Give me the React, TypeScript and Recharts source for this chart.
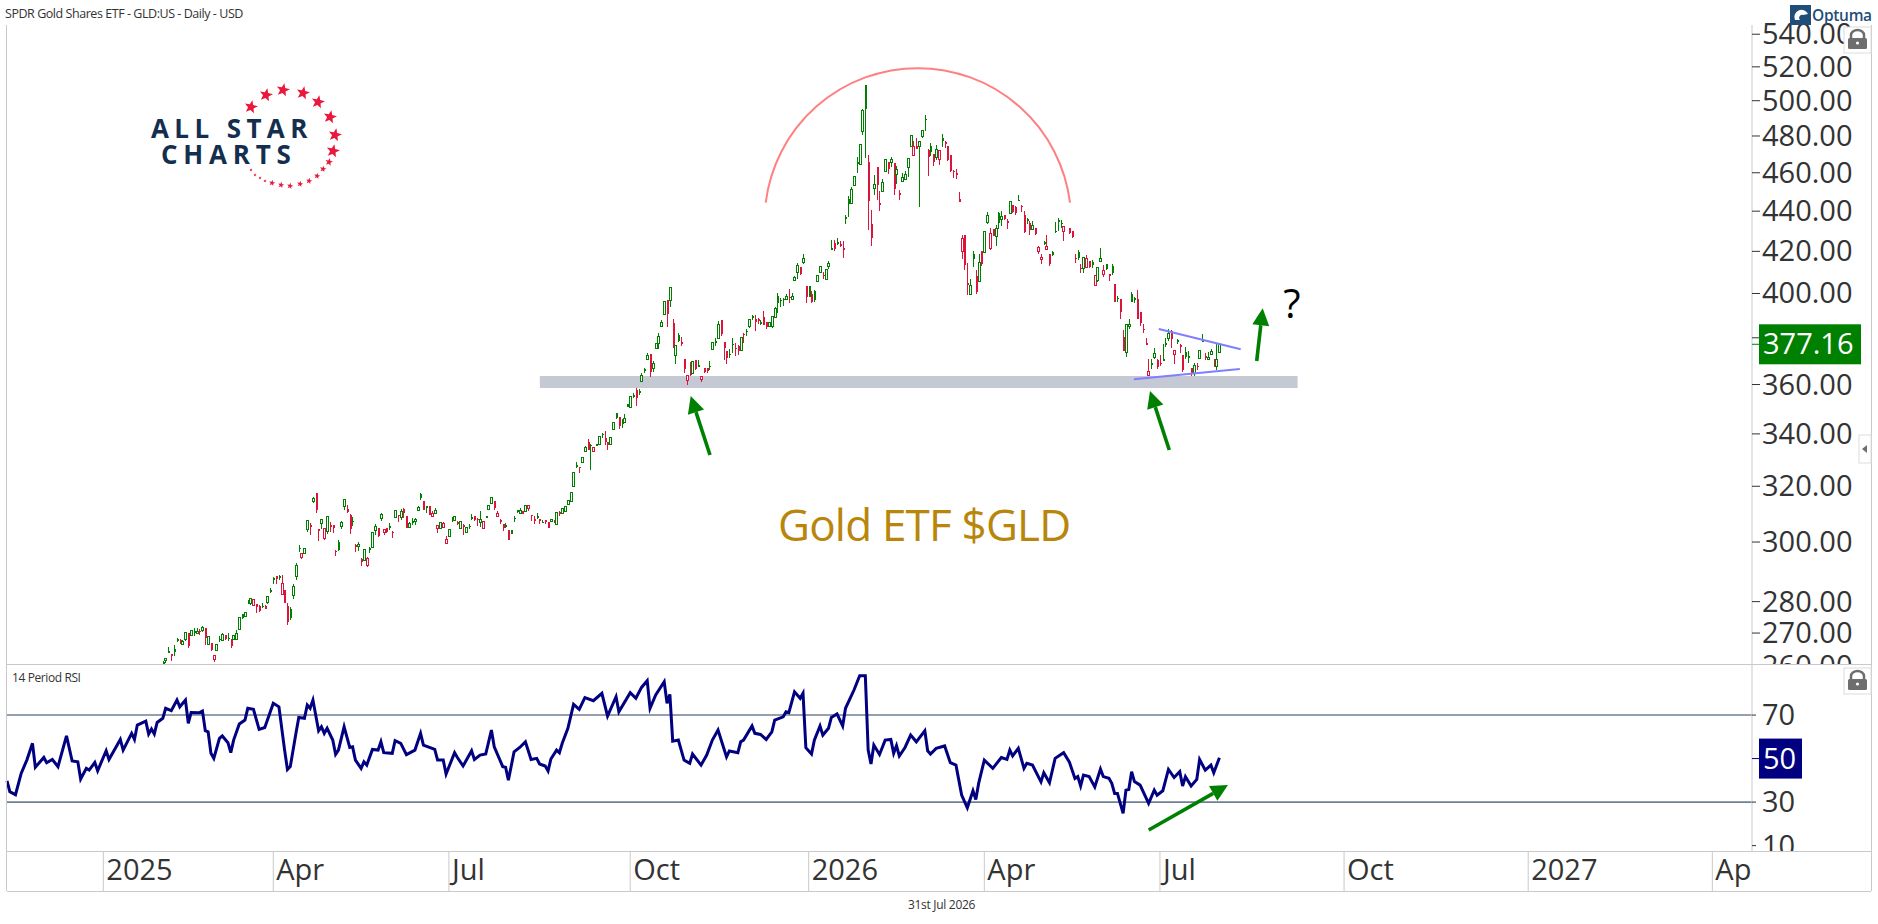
import { Bar, ComposedChart, Line, ReferenceArea, ReferenceLine, XAxis, YAxis } from "recharts";

// [slot, open, high, low, close, up] - slot is the trading day counted from the left edge
const candlesEarly = [
  [55,261,261.4,260.2,260.6,1],[56,261.5,262.4,260.7,262.2,1],[57,264.4,265.6,264,264.2,1],[58,263.5,263.6,261.5,263.1,0],[59,265.1,266.3,262.9,264.1,1],
  [60,268.1,268.6,267.2,267.8,1],[61,267.9,268.2,266.6,267.6,0],[62,266.6,267.9,266.3,267.5,1],[63,267.9,270.4,267.4,270.1,1],[64,270,270,265.5,266,0],
  [65,269.1,270.9,269,270.8,1],[66,270.5,271.5,269.1,270.1,1],[67,269.9,271.7,269.7,270.5,1],[68,270.8,271.2,269.4,270.2,0],[69,270.8,272.3,270.4,271.9,1],
  [70,271.7,271.7,266.3,268.6,0],[71,266.6,268.8,266.6,268.8,1],[72,266.8,266.8,264.3,264.8,0],[73,262,263.1,261.1,263.1,0],[74,264.6,266.5,264.6,266.5,1],
  [75,268.3,269.1,267.1,268,1],[76,267.7,270,267.5,269.5,1],[77,269.4,269.4,267.9,268,0],[78,268.6,269.9,267.4,268.2,1],[79,268.1,268.1,265.5,266,0],
  [80,267.9,269.2,267.9,269.2,1],[81,267.9,270.9,267.9,270,1],[82,271.2,274.9,271.2,274.9,1],[83,275.9,276,274.3,274.6,1],[84,275.1,276.5,275.1,276.5,1],
  [85,279.7,280.5,279.1,279.2,1],[86,279.3,281,279,280.9,1],[87,278.9,280.7,278.8,280.6,0],[88,279.2,279.2,276.4,278.3,0],[89,278.5,278.9,276.6,276.9,0],
  [90,278.6,279.7,277.8,278.2,1],[91,278.7,278.9,277.6,277.7,0],[92,279.7,281.8,279.2,281.8,1],[93,283.8,284.4,282.7,283.3,1],[94,287.7,288.2,285.8,287.3,1],
  [95,288.6,288.6,285.8,287.5,0],[96,288.3,288.7,287.1,287.9,1],[97,282.4,288.7,282.2,286,0],[98,283.8,283.8,279.4,279.4,0],[99,278.6,279.7,272.5,273.6,0],
  [100,277.5,278.3,274.1,274.9,1],[101,281.9,285.8,280.9,285.1,1],[102,288.2,292.9,287.1,292.1,1],[103,298,299,296.5,297.6,1],[104,294.8,296.3,294.2,295.9,0],
];

const candlesSummer = [
  [105,296.2,297.9,296.1,297.6,1],[106,304.3,307.9,303.6,307.4,1],[107,306,306.6,302.6,305.4,0],[108,314.4,316.2,313.8,315.4,1],[109,317.4,317.4,310.4,311.3,0],
  [110,304.4,304.4,300.5,304,0],[111,306.5,308.1,304.6,307.8,1],[112,301.2,304.9,300.7,304.7,0],[113,303.6,308.9,302.8,308.9,1],[114,306,307.2,303.6,305.4,0],
  [115,306,306,303.2,304.9,0],[116,297,297.4,295.1,296.8,0],[117,300.1,300.7,297,297.4,1],[118,305.4,307.4,304.6,306.9,1],[119,312.6,315.2,311.4,315.2,1],
  [120,311.7,313.2,310.2,310.5,0],[121,309.6,309.9,302.8,304.5,0],[122,307.4,308.7,305.7,306.9,1],[123,298.8,299.3,296.5,298.4,0],[124,298.4,300,297,299.3,1],
  [125,294,294.4,291.7,293.2,0],[126,293.6,297.4,293.6,297.4,1],[127,292,295,291.5,294.3,0],[128,297.8,298.4,296.3,297.4,1],[129,298.2,303.4,298.2,303.4,1],
  [130,303.9,306.2,302.5,305.5,1],[131,304.8,304.8,301.8,302.2,0],[132,308.2,310.2,307.5,309.6,1],[133,303.2,304.5,302.6,304.3,0],[134,304.8,304.8,303,303.6,0],
  [135,305.6,306.6,304.2,305.2,1],[136,303.6,303.8,301.4,303.3,0],[137,308.8,311.3,308.8,311.3,1],[138,309.6,309.6,307.2,309.1,0],[139,308.8,311.6,307.8,310.8,1],
  [140,311.8,311.9,308.4,310.2,0],[141,309,309,304.9,304.9,0],[142,305.2,307.2,304.8,306.4,1],[143,307.3,308.4,306,306.9,1],[144,307.3,308.4,305.8,308.1,1],
  [145,311.2,312.8,311.2,312.1,1],[146,317,317.4,315,315.8,1],[147,314.5,314.5,311.4,311.4,0],[148,312.6,312.6,310.2,312.2,1],[149,312.8,312.8,309.6,309.6,0],
  [150,309,310.8,309,309.9,0],[151,310.2,312.2,310,311,1],[152,304.8,305.9,303,305.9,0],[153,304.8,307,304.8,307,1],[154,305.2,307.2,304.8,306.6,0],
  [155,299.5,302.1,299.5,300.9,0],[156,302,304.4,302,304.4,1],[157,308.3,308.7,307.1,307.7,1],[158,307.4,309.1,307.4,309.1,1],[159,307,307.4,306,306.6,0],
  [160,304.6,307.1,304.6,307.1,1],[161,305.9,306.2,302.6,305.7,0],[162,303.2,305,303.2,305,1],[163,305.7,306.2,304.6,305.4,1],[164,308.8,309.9,307.8,308.4,1],
  [165,309.2,309.2,307.4,307.6,0],[166,308.2,308.4,305.7,307.9,0],[167,306.8,311,305.4,307.9,1],[168,304.9,307.2,304.9,307.2,0],[169,309.2,309.2,308.3,308.3,1],
  [170,311.5,312.8,311.5,312.8,1],[171,313.8,316.1,313.8,315.7,1],[172,314.6,314.6,311.4,312.2,0],[173,309,310.8,308.8,309.9,0],[174,307.9,308,306.2,307.2,0],
  [175,306.3,306.4,303.8,305,0],[176,306,306.6,304.8,305.4,1],[177,304.3,304.3,300.7,300.7,0],[178,304.2,304.2,302.8,302.8,1],[179,308.6,309.1,307.2,308,1],
  [180,311.2,311.4,310.2,310.8,1],[181,310.1,312,310,311,1],[182,310.8,310.8,309.8,309.9,0],[183,310.8,312.8,310.8,312.8,1],[184,311.8,312.8,310.8,312.8,0],
  [185,309.6,309.6,307.4,309.2,0],[186,308,309.2,306.3,307.7,0],[187,309,310.2,308.2,308.6,1],[188,308,308.2,306.3,307.6,0],[189,307.1,307.6,306.6,306.8,1],
  [190,307.6,307.8,306.3,307,0],[191,306.9,307,304.8,305,0],[192,307.2,308,307.2,308,1],[193,307.8,307.8,306.6,306.6,0],[194,306.3,310.3,306.3,310.3,1],
  [195,310.6,310.8,309.2,310.3,0],[196,310,311.8,310,311.8,1],[197,310.8,312.6,310.8,312.6,1],[198,313.2,314.9,313.2,314.9,1],[199,314.4,317.8,314.4,317.8,1],
  [200,320.1,325.4,320.1,325.3,1],[201,327.9,329.2,326.7,327.5,1],[202,327.4,327.4,325.1,327.1,0],
];

const candlesAutumn = [
  [203,328.9,330.7,328.9,330.7,1],[204,333.2,335.3,333.2,334.7,1],[205,337,338,333.8,333.8,0],[206,335.7,336.1,326.1,335.5,1],[207,333,334.7,333,334.7,0],
  [208,335.9,336,335.3,335.5,1],[209,335.7,338.9,335.7,338.9,1],[210,340,340.5,338.5,339.6,1],[211,338.5,341,335.7,336.9,0],[212,337,337,333.8,335.5,0],
  [213,335.7,338.6,335.7,338.6,1],[214,341.9,344.7,341.7,344.7,1],[215,348.2,348.2,346.1,346.5,1],[216,346.6,346.6,342.1,343.2,0],[217,344.4,346.1,342.2,343.8,1],
  [218,344.6,347.9,344.6,346.2,1],[219,351.9,352.1,350.9,350.9,1],[220,350.5,355.2,350.5,355.2,1],[221,355.6,356.4,354.3,355.2,1],[222,357.8,358.5,351.2,354.3,0],
  [223,357.3,358.1,355.7,356.8,1],[224,361.1,364.7,361.1,363.7,1],[225,366.4,367,364.7,366,1],[226,370.6,373.3,370.3,372.1,1],[227,373,373,363,365.1,0],
  [228,366.9,370,365.4,368.7,1],[229,375.3,377.8,374.9,377.5,1],[230,377.4,382,375.3,380.4,1],[231,385.2,387.7,384.6,386.9,1],[232,390.2,396.1,390.2,396.1,1],
  [233,397,397,384.9,390.6,0],[234,396.7,402.8,394,402.8,1],[235,386.5,388.3,375.7,376.8,0],[236,372.1,376.8,368.7,376.8,1],[237,381.3,382,378.2,378.6,1],
  [238,378,380.5,376.5,377.5,0],[239,371,371,364.7,366.5,0],[240,361.5,363.6,359.9,363.6,0],[241,369.6,369.6,363.6,364,0],[242,364.6,369.6,364.4,369.6,1],
  [243,370.3,370.3,366.1,366.4,0],[244,368.2,370.3,367.5,367.9,1],[245,362.3,363.3,361.1,363.3,0],[246,367.1,367.1,364.7,365.2,0],[247,366.8,367.1,364.9,365.6,0],
  [248,368,370,366.1,367.8,1],[249,374.9,378.1,374.9,378.1,1],[250,378.6,380,376.4,378.3,1],[251,379.6,387.4,379.3,385.9,1],[252,388.1,388.1,381,381.5,0],
  [253,378.3,378.3,370.2,375.4,0],[254,374.2,374.2,368.5,371.4,0],[255,373,375.2,371.4,372.6,1],[256,377.5,380,373.2,377.2,1],[257,375.6,377.8,371.9,375.2,0],
  [258,376.4,376.8,372.5,374.2,0],[259,374.5,380,374.5,380,1],[260,381.9,382.2,377.8,381.6,0],[261,383.2,383.7,380.7,382.6,1],[262,385.1,388.1,384.5,388.1,1],
  [263,389.8,390.2,388.1,389,1],[264,388.4,390.3,383,386.9,0],[265,388.5,388.9,386.3,387.5,0],[266,387,387.7,385.7,386.5,1],[267,389.1,391.8,385.9,385.9,0],
  [268,386.8,387,384.1,385,0],[269,385.1,387,384.8,387,1],[270,385.1,389.3,384.5,389.3,1],[271,388.9,394,388.9,392.9,1],[272,399,400.2,391.1,395.6,1],
  [273,397.2,397.7,393.9,396.8,1],[274,397.5,397.7,394.2,396.9,1],[275,397.3,399.7,397,398.7,1],[276,398.6,402.2,395.8,397.7,0],[277,397.2,400,397.2,398.7,1],
  [278,406.1,408.4,405.8,407.7,1],[279,409.9,414.2,406.8,413.3,1],[280,412.5,412.5,408.8,409,0],[281,414.4,418.5,414.1,416.4,1],
];

const candlesWinter = [
  [282,403.6,403.6,395.6,398.6,0],[283,403.6,403.6,398.6,398.6,1],[284,399.7,401,395.6,396,0],[285,401,401.4,396.3,396.8,1],[286,405.5,408.4,405.5,408.4,1],
  [287,409.9,412.8,409.9,412.8,1],[288,408.8,409.9,406.8,408,0],[289,406.4,411.2,406.4,411.2,1],[290,412.5,415.1,411.7,414.3,1],[291,421.6,425.7,420.8,421,1],
  [292,424.1,425.7,420,421.3,0],[293,424.5,426.6,422.9,424.2,1],[294,423.6,424.9,422.1,422.8,0],[295,421.4,424.9,417,421,0],[296,437,437.8,433.6,436.1,1],
  [297,446.2,447.6,436.8,443.7,1],[298,443.7,452.4,443.7,451.4,1],[299,453.3,458.5,453.3,457.8,1],[300,466,468.7,459.8,464.6,1],[301,464.6,475.5,464.6,475.5,1],
  [302,482.4,495,480.6,494.1,1],[303,509.1,509.1,467.9,495,1],[304,466,469.7,430.6,445,0],[305,433.6,440.7,422.5,426.6,0],[306,451.5,458.9,448.1,454,1],
  [307,463.3,463.3,445.5,453.6,0],[308,444.2,450.5,440.2,443.4,0],[309,450.2,456.6,450.2,455,1],[310,460.7,467.4,460.7,466.9,1],[311,466,466,459.5,461.9,0],
  [312,465.4,468.3,463,467.2,1],[313,465.4,465.4,448.1,451.4,0],[314,459.3,463.7,454,461.9,1],[315,449.6,451,445.5,448.2,0],[316,455.5,459.8,455.5,457.6,1],
  [317,456.4,460.7,455.9,459.3,1],[318,462.9,467.9,458,467.9,1],[319,474.4,480.8,474.4,480.4,1],[320,469.3,477,469.3,474.2,0],[321,474.6,478.8,472.7,472.7,0],
  [322,474.2,477,442.1,477,1],[323,479.7,483.1,479,483.1,1],[324,489.6,491.8,482.8,489.2,1],[325,472.3,472.9,458.4,468.3,0],[326,474.2,476.1,469.1,471.4,1],
  [327,470.1,470.1,463.7,466,0],[328,468.1,474.8,466.9,472.7,1],[329,466.9,472.1,464.2,472.1,0],[330,479,481,473.7,477.4,1],[331,476.4,477.4,473.3,476,0],
  [332,474.6,474.6,466.4,466.6,0],[333,469.3,469.3,460.3,461,0],[334,461,461.6,457.1,460.4,0],[335,459.8,462.1,456.7,459.2,0],[336,446.4,449.9,444.5,444.5,0],
  [337,420,427.8,416.4,426.1,0],[338,427.9,427.9,411.2,413.6,0],[339,404.9,414.4,399.5,403.9,0],[340,399.5,406.8,399.2,403.8,1],[341,418.9,420.3,412.3,416.3,1],
  [342,408.4,411.2,399.9,400.5,0],[343,405.7,418.5,405.7,414.4,1],[344,420,420,412.8,414,0],[345,419.5,429.9,419.5,429.9,1],[346,434.1,439.5,433.6,437.6,1],
  [347,421.6,431.4,420.8,429,0],[348,431,431,427.3,427.5,0],[349,427.3,432.8,422.8,431.4,1],[350,439,439.8,431.1,434,1],[351,436,440.3,432.3,437.3,1],
];

const candlesSpring = [
  [352,438,438.1,435.7,436,0],[353,435,436.1,431.1,434.5,0],[354,439,444.7,439,444.7,1],[355,443.3,443.3,439,439.8,0],[356,441.9,442.5,437.8,439.3,0],
  [357,445.9,448.3,445,445,1],[358,442.8,443.3,439.8,442,0],[359,438.1,440.2,429,429.3,0],[360,436,436.5,433.6,435.4,1],[361,434,434.8,428.2,430.7,0],
  [362,430.6,434.8,430.6,433,1],[363,431.4,431.4,428.2,428.5,0],[364,420,422.5,418.5,421.8,0],[365,416,418.9,414.1,417.2,0],[366,424.8,425.2,422.9,423.5,1],
  [367,421.1,427.8,420.6,422.5,0],[368,418.5,418.5,413.1,414,0],[369,419.5,420.2,417.7,418,1],[370,430.2,434.5,429,429.4,1],[371,435.5,436.7,429.9,434.6,1],
  [372,434.2,435.7,431.4,433.8,1],[373,430,432.1,425.1,432.1,0],[375,431.5,431.6,428.5,429,0],[376,430,430.2,426.6,427,0],[377,416.8,418.7,414.2,416.4,0],
  [378,419.5,420.6,415.8,416.6,1],[379,412,413.9,409.8,411.6,0],[380,411.8,417.1,409.8,417.1,1],[381,412.3,418.2,412.3,416.6,0],[382,415.3,415.3,411.8,412.5,0],
  [383,415,415.8,411.8,413.4,1],[384,403.6,408.3,403.6,408.3,0],[385,406,412.3,405.5,412.3,1],[386,415,421.4,415,416.6,1],[387,409.1,413.4,407.5,411,0],
  [388,413.7,413.9,411,411.3,1],[389,408.9,409.1,406,408.4,0],[390,412.9,413.9,408.8,409.4,1],[391,404.4,404.4,395.9,396.1,0],[392,398,398.8,395.9,397.8,1],
  [393,397.4,397.4,388.5,391.7,0],[394,380.3,383.5,374.4,374.4,0],[395,373.5,385.9,371.8,385.9,1],[396,384.9,388.2,384.1,385.9,1],[397,399.8,400.6,395.9,396.2,1],
  [398,397.8,398.2,395.7,397.6,1],[399,397.4,401.6,388.4,388.4,0],[400,391.7,391.7,385.3,386.7,0],[401,384.1,386.1,382.3,383.5,0],[402,377.6,379.9,377.2,377.3,0],
];

const candlesSummerEnd = [
  [403,363.9,370.7,363.9,365.5,0],[404,369,370.7,366.4,368.4,1],[405,371.5,375.4,370.7,373.2,1],[406,370.2,370.7,366.7,367.5,0],[407,369.2,372.5,367.8,368.6,0],
  [408,370.6,377.3,370,370.2,1],[409,377.6,379.9,376.1,376.8,1],[410,379.6,383.7,378.4,381.8,1],[411,382.9,383.4,375.4,379.6,0],[412,372.7,374.4,368.6,374.4,0],
  [413,378.9,379.6,377.3,378.4,1],[414,376.8,377.3,373.5,376.1,0],[415,372.5,372.5,365.1,366,0],[416,373.6,375.8,370.7,371.8,1],[417,372,374.2,369.2,371.3,1],
  [418,367.1,367.1,363.7,364.5,0],[419,364.7,369.2,363.7,368.2,1],[420,367.9,368.9,366.3,367.5,0],[421,371,374.4,371,374.4,1],[422,379,381.6,378.4,378.7,1],
  [423,372.2,373.2,370.3,371.3,0],[424,370.6,373.9,370.6,371.5,1],[425,372.9,375,372.5,374.2,1],[426,370.4,370.6,367.4,368,0],[427,367.4,377.3,366.3,370.6,1],
  [428,373.5,377.6,373.5,377.16,1],
];

// [slot, value]
const rsiEarly = [
  [0,39.8],[1,34.8],[3,33.4],[5,43.2],[7,49.3],[9,57],[10,46],[13,50.5],[14,48.1],[16,49.6],[18,46.3],[21,60.4],[23,48.9],[25,48.5],[26,40.6],[28,45.5],[29,44.7],[31,48.2],[32,44.4],[35,53.6],
  [36,49.6],[40,58.8],[41,53.9],[44,61.6],[45,58.8],[46,65.4],[49,67.2],[50,61.3],[51,63.6],[52,61.3],[53,66.6],[55,68.5],[56,73.1],[58,72],[60,76.9],[61,73.8],[63,76.9],[64,66.2],[65,71.2],[68,71.1],
  [69,71.8],[70,62.8],[71,62.3],[72,52.4],[73,50.1],[75,59.3],[76,60.4],[78,57.3],[79,52.7],[80,58.5],[82,65.9],[84,67.7],[85,73.1],[87,72.6],[89,63.4],[91,64.3],[94,75.4],[96,73.8],[98,53.9],[99,45],
  [100,46.3],[102,61.6],[103,68.9],[105,68.5],[106,74.6],[107,73.1],[108,76.9],[110,62.8],[111,64.6],[112,61.6],[113,63.9],[115,58.5],[116,51.9],[117,53.9],[119,64.6],[121,55.1],[122,55.4],[123,49.3],[125,45.5],[126,48.5],
  [127,47],[129,54.2],[131,53.9],[132,57.7],[133,52.7],[136,52.4],[137,58.2],[139,57],[141,51.8],[144,53.9],[146,61.6],[147,56.2],[151,54.2],[152,49.3],[154,49.3],[155,42.9],[158,52.7],[159,50.5],[161,46.6],[164,53.6],
];

const rsiMiddle = [
  [165,49.6],[167,51.6],[169,52.1],[171,63.1],[172,55.4],[175,46.3],[176,46],[177,40.1],[179,53.1],[181,55.1],[183,57.7],[185,49.6],[187,50.1],[188,47.5],[190,46.6],[191,44.3],[192,49.8],[194,53.9],[195,52.7],[196,57],
  [198,63.9],[200,74.9],[202,72.6],[204,78],[207,76.6],[210,80],[212,69.5],[215,78.4],[216,71.5],[220,80.3],[222,77.7],[224,82.7],[226,85.8],[227,73.1],[229,79.2],[232,85.3],[233,75.4],[234,79.5],[235,58],[237,58.5],
  [239,49.3],[241,47.8],[242,52.1],[245,47],[247,51.6],[249,58.5],[251,63.1],[254,50.8],[255,53.5],[258,52.7],[259,57.7],[260,58.5],[263,65],[264,61.6],[266,61.1],[268,58.8],[270,62.3],[271,67.7],[274,69.2],[275,71.5],
  [276,71.1],[278,80.7],[280,77.7],[281,80],[282,55],[284,52.1],[285,58.5],[287,65],[288,60.8],[290,63.9],[291,68.9],[293,70.5],[295,65],[296,73.1],[299,81.5],[301,88.1],[303,88.1],[304,53.9],[305,47.5],[306,56.2],
];

const rsiLate = [
  [308,51.9],[310,58.5],[312,58.8],[313,52.4],[314,55.9],[315,51.2],[317,55.1],[319,60.8],[321,57.7],[324,62.8],[325,53.6],[326,52.1],[328,54.7],[331,55.8],[333,48.1],[335,47],[337,33.2],[339,27.4],[341,35.2],[342,31.2],
  [343,38.6],[345,49.3],[348,45.5],[351,50.5],[353,49.6],[354,53.9],[355,51.2],[357,54.7],[359,45.5],[360,47.8],[362,47],[365,39.3],[366,43.5],[368,38.9],[370,50.1],[373,52.7],[375,48.5],[377,40.9],[378,41.7],[379,37.4],
  [380,42.4],[382,41.7],[384,37],[386,45.2],[387,41.7],[389,40.9],[390,38.6],[391,34],[392,34],[394,24.8],[395,35.5],[396,35.8],[397,44],[398,39.4],[400,37.8],[403,29.4],[405,35.5],[406,33.2],[408,35.2],[410,45],
  [412,41.3],[414,44],[415,37.4],[416,41.7],[418,37.4],[420,40.4],[421,49.6],[423,44.7],[425,47],[426,43.5],[428,50.4],
];

const priceTicks = [540, 520, 500, 480, 460, 440, 420, 400, 380, 360, 340, 320, 300, 280, 270, 260];
const lastClose = 377.16;
const rsiTicks = [70, 50, 30, 10];
const rsiLastLabel = 50;
const dateSlots = [34, 94, 156, 220, 283, 345, 407, 472, 537, 602];
const dateLabels = ["2025", "Apr", "Jul", "Oct", "2026", "Apr", "Jul", "Oct", "2027", "Apr"];
const supportBand = { slots: [188.1, 455.6], prices: [358.6, 363.6] };
const upperTrend = [[406.6, 383.9], [435.5, 375]];
const lowerTrend = [[397.8, 362.2], [435.2, 366.5]];
const lastSlot = 616;

const FONT = '"Open Sans", sans-serif';
const GREEN = "#008000";
const RED = "#dc143c";
const NAVY = "#000080";
const FRAME = "#c9c9c9";
const TEXT = "#333333";

const candleData = [...candlesEarly, ...candlesSummer, ...candlesAutumn, ...candlesWinter, ...candlesSpring, ...candlesSummerEnd].map(
  ([slot, open, high, low, close, up]) => ({ slot, open, close, up, range: [low, high] }),
);
const rsiData = [...rsiEarly, ...rsiMiddle, ...rsiLate].map(([slot, rsi]) => ({ slot, rsi }));

const Candle = (props: any) => {
  const { x, y, width, height, payload } = props;
  const [low, high] = payload.range;
  const top = Math.min(y, y + height);
  const span = Math.abs(height);
  const priceY = (v: number) =>
    high === low ? top : top + (span * (Math.log(high) - Math.log(v))) / (Math.log(high) - Math.log(low));
  const color = payload.up ? GREEN : RED;
  const cx = Math.round(x + width / 2) + 0.5;
  const bodyTop = priceY(Math.max(payload.open, payload.close));
  const bodyH = priceY(Math.min(payload.open, payload.close)) - bodyTop;
  const hollow = payload.close > payload.open;
  return (
    <g shapeRendering="crispEdges">
      <line x1={cx} x2={cx} y1={top} y2={top + span} stroke={color} strokeWidth={1} />
      {hollow ? (
        <rect x={cx - 1} y={bodyTop} width={2} height={Math.max(bodyH, 1)} fill="#fff" stroke={color} strokeWidth={1} />
      ) : (
        <rect x={cx - 1} y={bodyTop} width={2} height={Math.max(bodyH, 1.5)} fill={color} />
      )}
    </g>
  );
};

const PriceTick = (props: any) => {
  const { x, y, payload } = props;
  if (payload.value === lastClose) {
    return (
      <g>
        <line x1={x} x2={x + 8} y1={y} y2={y} stroke={GREEN} />
        <rect x={x + 7} y={y - 20} width={102} height={40} fill={GREEN} />
        <text x={x + 11} y={y + 10} fontSize={29} fontFamily={FONT} fill="#fff">
          {payload.value.toFixed(2)}
        </text>
      </g>
    );
  }
  return (
    <g>
      <line x1={x} x2={x + 8} y1={y} y2={y} stroke={TEXT} />
      {payload.value !== 380 && (
        <text x={x + 10} y={y + 10} fontSize={29} fontFamily={FONT} fill={TEXT}>
          {payload.value.toFixed(2)}
        </text>
      )}
    </g>
  );
};

const RsiTick = (props: any) => {
  const { x, y, payload } = props;
  if (payload.value === rsiLastLabel) {
    return (
      <g>
        <line x1={x} x2={x + 8} y1={y} y2={y} stroke={NAVY} />
        <rect x={x + 7} y={y - 20} width={43} height={40} fill={NAVY} />
        <text x={x + 11} y={y + 10} fontSize={29} fontFamily={FONT} fill="#fff">
          {payload.value}
        </text>
      </g>
    );
  }
  return (
    <g>
      <line x1={x} x2={x + 4} y1={y} y2={y} stroke={TEXT} />
      <text x={x + 10} y={y + 10} fontSize={29} fontFamily={FONT} fill={TEXT}>
        {payload.value}
      </text>
    </g>
  );
};

const DateTick = (props: any) => {
  const { x, y, payload, index } = props;
  return (
    <g>
      <line x1={x} x2={x} y1={y} y2={y + 40} stroke={FRAME} />
      <text x={x + 3} y={y + 28.5} fontSize={29} fontFamily={FONT} fill={TEXT}>
        {dateLabels[index] ?? payload.value}
      </text>
    </g>
  );
};

const Arrow = ({ x1, y1, x2, y2 }: { x1: number; y1: number; x2: number; y2: number }) => {
  const len = Math.hypot(x2 - x1, y2 - y1);
  const ux = (x2 - x1) / len;
  const uy = (y2 - y1) / len;
  const bx = x2 - ux * 17;
  const by = y2 - uy * 17;
  const hw = 8.5;
  return (
    <g>
      <line x1={x1} y1={y1} x2={bx} y2={by} stroke={GREEN} strokeWidth={3.6} />
      <polygon points={`${x2},${y2} ${bx - uy * hw},${by + ux * hw} ${bx + uy * hw},${by - ux * hw}`} fill={GREEN} />
    </g>
  );
};

const Star = ({ cx, cy, r }: { cx: number; cy: number; r: number }) => {
  const pts = [];
  for (let i = 0; i < 10; i++) {
    const a = -Math.PI / 2 + 0.2 + (i * Math.PI) / 5;
    const rr = i % 2 ? r * 0.42 : r;
    pts.push(`${cx + rr * Math.cos(a)},${cy + rr * Math.sin(a)}`);
  }
  return <polygon points={pts.join(" ")} fill="#e8193c" />;
};

const logoStars = [
  [251, 107, 7], [266, 95, 7], [283, 90, 7], [303, 93, 7], [318, 102, 7], [330, 117, 7], [335, 135, 7], [333, 151, 7],
  [329, 162, 4], [323, 169, 3.4], [317, 176, 3.2], [309, 181, 3.2], [300, 184, 3.2], [290, 186, 3.2], [281, 185, 3.2], [272, 183, 3.2],
  [265, 181, 1.7], [260, 178, 1.7], [255, 175, 1.7], [251, 170, 1.7],
];

const LockButton = ({ y }: { y: number }) => (
  <g>
    <rect x={1844} y={y} width={27} height={26} fill="#fff" stroke="#dcdcdc" />
    <path d={`M1851 ${y + 11} v-3 a6.5 5 0 0 1 13 0 v3`} fill="none" stroke="#6e6e6e" strokeWidth={2.5} />
    <rect x={1848} y={y + 11} width={19} height={11} rx={1.5} fill="#6e6e6e" />
    <circle cx={1857.5} cy={y + 16} r={1.6} fill="#fff" />
  </g>
);

export default function App() {
  return (
    <div style={{ position: "absolute", left: 0, top: 0, width: 1878, height: 924, background: "#fff", overflow: "hidden" }}>
      <div style={{ position: "absolute", left: 0, top: 0, width: 1878, height: 665, overflow: "hidden" }}>
        <ComposedChart width={1878} height={665} data={candleData} margin={{ top: 25, right: 0, bottom: 0, left: 7 }}>
          <XAxis dataKey="slot" type="number" domain={[0, lastSlot]} hide />
          <YAxis
            orientation="right"
            width={126}
            scale="log"
            type="number"
            domain={[260.2, 545.8]}
            allowDataOverflow
            ticks={[...priceTicks, lastClose]}
            interval={0}
            tick={<PriceTick />}
            tickLine={false}
            tickSize={0}
            tickMargin={0}
            axisLine={{ stroke: FRAME }}
          />
          <Bar dataKey="range" barSize={3} shape={<Candle />} isAnimationActive={false} />
          <ReferenceArea
            x1={supportBand.slots[0]}
            x2={supportBand.slots[1]}
            y1={supportBand.prices[0]}
            y2={supportBand.prices[1]}
            fill="#b5bcc8"
            fillOpacity={0.8}
            stroke="none"
          />
          <ReferenceLine
            segment={upperTrend.map(([x, y]) => ({ x, y }))}
            stroke="#7f7fff"
            strokeWidth={2}
          />
          <ReferenceLine
            segment={lowerTrend.map(([x, y]) => ({ x, y }))}
            stroke="#7f7fff"
            strokeWidth={2}
          />
        </ComposedChart>
      </div>
      <div style={{ position: "absolute", left: 0, top: 665, width: 1878, height: 227, overflow: "hidden" }}>
        <ComposedChart width={1878} height={227} data={rsiData} margin={{ top: 0, right: 0, bottom: 0, left: 7 }}>
          <XAxis
            dataKey="slot"
            type="number"
            domain={[0, lastSlot]}
            ticks={dateSlots}
            interval={0}
            height={40.5}
            tick={<DateTick />}
            tickLine={false}
            tickSize={0}
            tickMargin={0}
            axisLine={{ stroke: FRAME }}
          />
          <YAxis
            orientation="right"
            width={126}
            type="number"
            domain={[7.3, 93]}
            ticks={rsiTicks}
            interval={0}
            tick={<RsiTick />}
            tickLine={false}
            tickSize={0}
            tickMargin={0}
            axisLine={{ stroke: FRAME }}
          />
          <ReferenceLine y={70} stroke="#708090" strokeWidth={1.6} />
          <ReferenceLine y={30} stroke="#708090" strokeWidth={1.6} />
          <Line dataKey="rsi" type="linear" stroke={NAVY} strokeWidth={3} dot={false} isAnimationActive={false} />
        </ComposedChart>
      </div>
      <svg width={1878} height={924} style={{ position: "absolute", left: 0, top: 0, pointerEvents: "none" }}>
        <rect x={1753} y={852} width={118} height={39} fill="#fff" />
        <g stroke={FRAME} strokeWidth={1} shapeRendering="crispEdges">
          <line x1={6.5} x2={6.5} y1={25} y2={891} />
          <line x1={1871} x2={1871} y1={25} y2={891} />
          <line x1={7} x2={1871} y1={664.5} y2={664.5} />
          <line x1={7} x2={1871} y1={851.5} y2={851.5} />
          <line x1={7} x2={1871} y1={891} y2={891} />
        </g>
        <path d="M765.7 202.7 A153.3 153.3 0 0 1 1070 202.7" fill="none" stroke="#ff8080" strokeWidth={2} />
        <Arrow x1={1169.3} y1={450} x2={1150} y2={391} />
        <Arrow x1={1256.7} y1={361} x2={1262.7} y2={308.3} />
        <Arrow x1={710} y1={455} x2={690.7} y2={396} />
        <Arrow x1={1148.7} y1={830} x2={1228} y2={785} />
        <text x={1292} y={318} textAnchor="middle" fontSize={40} fontFamily={FONT} fill="#000">?</text>
        <text x={778} y={541} fontSize={44} letterSpacing={-0.8} fontFamily={FONT} fill="#b8860b">Gold ETF $GLD</text>
        <text x={5} y={18} fontSize={12.5} letterSpacing={-0.45} fontFamily={FONT} fill={TEXT}>SPDR Gold Shares ETF - GLD:US - Daily - USD</text>
        <text x={12} y={682} fontSize={12} letterSpacing={-0.4} fontFamily={FONT} fill={TEXT}>14 Period RSI</text>
        <text x={908} y={909} fontSize={12} letterSpacing={-0.3} fontFamily={FONT} fill={TEXT}>31st Jul 2026</text>
        <text x={151} y={138} fontSize={26} fontWeight={700} letterSpacing={5.4} fontFamily={FONT} fill="#132e4f">ALL STAR</text>
        <text x={161} y={164} fontSize={26} fontWeight={700} letterSpacing={5.8} fontFamily={FONT} fill="#132e4f">CHARTS</text>
        {logoStars.map(([cx, cy, r], i) => (
          <Star key={i} cx={cx} cy={cy} r={r} />
        ))}
        <rect x={1790} y={5} width={21} height={20} fill="#1f4e79" />
        <path d="M1795 20 a7 7 0 0 1 13 -6 l-5 1 a3 3 0 0 0 -3 5 z" fill="#fff" />
        <text x={1812} y={21} fontSize={15.5} fontWeight={600} letterSpacing={-0.3} fontFamily={FONT} fill="#1f4e79">Optuma</text>
        <LockButton y={27} />
        <LockButton y={668} />
        <rect x={1859} y={435} width={12} height={28} fill="#fff" stroke="#dcdcdc" />
        <path d="M1867 445 l-5 4 l5 4 z" fill="#6e6e6e" />
      </svg>
    </div>
  );
}
